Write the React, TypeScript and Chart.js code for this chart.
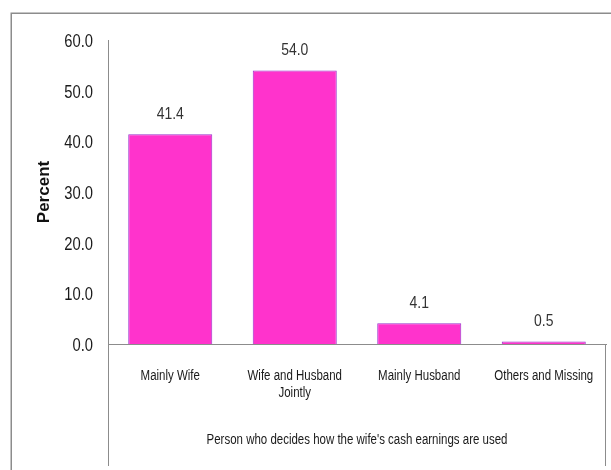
import React, { useEffect, useRef } from "react";
import { Chart, registerables } from "chart.js";

Chart.register(...registerables);

const categories: string[][] = [
  ["Mainly Wife"],
  ["Wife and Husband", "Jointly"],
  ["Mainly Husband"],
  ["Others and Missing"],
];
const percentValues: number[] = [41.4, 54.0, 4.1, 0.5];
const yTickValues: number[] = [0, 10, 20, 30, 40, 50, 60];
const yAxisTitle = "Percent";
const xAxisTitle = "Person who decides how the wife's cash earnings are used";

const SANS = "'Liberation Sans', Arial, sans-serif";
const NARROW_SCALE = 0.82;

// Draws text horizontally condensed, like a narrow face
function narrowText(
  ctx: CanvasRenderingContext2D,
  text: string,
  x: number,
  y: number,
  size: number,
  align: CanvasTextAlign,
  color: string
) {
  ctx.save();
  ctx.font = `${size}px ${SANS}`;
  ctx.fillStyle = color;
  ctx.textAlign = align;
  ctx.textBaseline = "middle";
  ctx.translate(x, y);
  ctx.scale(NARROW_SCALE, 1);
  ctx.fillText(text, 0, 0);
  ctx.restore();
}

// Outer frame of the chart object
const framePlugin = {
  id: "frame",
  beforeDraw(chart: any) {
    const { ctx } = chart;
    ctx.save();
    ctx.fillStyle = "#ffffff";
    ctx.fillRect(0, 0, chart.width, chart.height);
    ctx.strokeStyle = "#8c8c8c";
    ctx.lineWidth = 1.5;
    ctx.strokeRect(11.25, 13.25, chart.width + 20, chart.height + 20);
    ctx.restore();
  },
};

// Axis labels, titles and the boundary lines under the category axis
const axisTextPlugin = {
  id: "axisText",
  afterDraw(chart: any) {
    const { ctx, chartArea } = chart;
    const xScale = chart.scales.x;
    const yScale = chart.scales.y;

    ctx.save();
    ctx.strokeStyle = "#8c8c8c";
    ctx.lineWidth = 1;
    ctx.beginPath();
    ctx.moveTo(Math.round(chartArea.left) + 0.5, chartArea.bottom);
    ctx.lineTo(Math.round(chartArea.left) + 0.5, chart.height - 4);
    ctx.moveTo(Math.round(chartArea.right) - 0.5, chartArea.bottom);
    ctx.lineTo(Math.round(chartArea.right) - 0.5, chart.height - 4);
    ctx.stroke();
    ctx.restore();

    // value axis tick labels
    yTickValues.forEach((v) => {
      const y = yScale.getPixelForValue(v) + 2;
      narrowText(ctx, v.toFixed(1), chartArea.left - 15, y, 18, "right", "#1a1a1a");
    });

    // category labels
    categories.forEach((lines, i) => {
      const x = xScale.getPixelForValue(i);
      lines.forEach((line, j) => {
        narrowText(ctx, line, x, chartArea.bottom + 32 + j * 17, 14, "center", "#1a1a1a");
      });
    });

    // category axis title
    narrowText(
      ctx,
      xAxisTitle,
      (chartArea.left + chartArea.right) / 2,
      chart.height - 30,
      14,
      "center",
      "#1a1a1a"
    );

    // value axis title
    ctx.save();
    ctx.font = `bold 17px ${SANS}`;
    ctx.fillStyle = "#111111";
    ctx.textAlign = "center";
    ctx.textBaseline = "middle";
    ctx.translate(44, (chartArea.top + chartArea.bottom) / 2);
    ctx.rotate(-Math.PI / 2);
    ctx.fillText(yAxisTitle, 0, 0);
    ctx.restore();
  },
};

// Value labels above each bar
const valueLabelPlugin = {
  id: "valueLabels",
  afterDatasetsDraw(chart: any) {
    const { ctx } = chart;
    const meta = chart.getDatasetMeta(0);
    const data = chart.data.datasets[0].data as number[];
    meta.data.forEach((bar: any, i: number) => {
      narrowText(ctx, data[i].toFixed(1), bar.x, bar.y - 20, 17, "center", "#333333");
    });
  },
};

export default function App() {
  const canvasRef = useRef<HTMLCanvasElement | null>(null);

  useEffect(() => {
    document.body.style.margin = "0";
    const canvas = canvasRef.current;
    if (!canvas) return;
    const chart = new Chart(canvas, {
      type: "bar",
      data: {
        labels: categories.map((l) => l.join(" ")),
        datasets: [
          {
            data: percentValues,
            backgroundColor: "#ff33cc",
            borderColor: "#9933cc",
            borderWidth: 1,
            barPercentage: 0.675,
            categoryPercentage: 1,
          },
        ],
      },
      options: {
        responsive: false,
        animation: false,
        devicePixelRatio: 1,
        layout: { padding: { left: 0, right: 5, top: 40, bottom: 0 } },
        plugins: {
          legend: { display: false },
          tooltip: { enabled: false },
          title: { display: false },
        },
        scales: {
          x: {
            grid: { display: false, drawTicks: false },
            border: { display: true, color: "#8c8c8c", width: 1 },
            ticks: { display: false },
            afterFit(scale: any) {
              scale.height = 126;
            },
          },
          y: {
            min: 0,
            max: 60,
            grid: { display: false, drawTicks: false },
            border: { display: true, color: "#8c8c8c", width: 1 },
            ticks: { display: false, stepSize: 10 },
            afterFit(scale: any) {
              scale.width = 108;
            },
          },
        },
      },
      plugins: [framePlugin, axisTextPlugin, valueLabelPlugin],
    });
    return () => chart.destroy();
  }, []);

  return (
    <div style={{ width: 611, height: 470, position: "relative" }}>
      <canvas ref={canvasRef} width={611} height={470} style={{ display: "block" }} />
    </div>
  );
}
